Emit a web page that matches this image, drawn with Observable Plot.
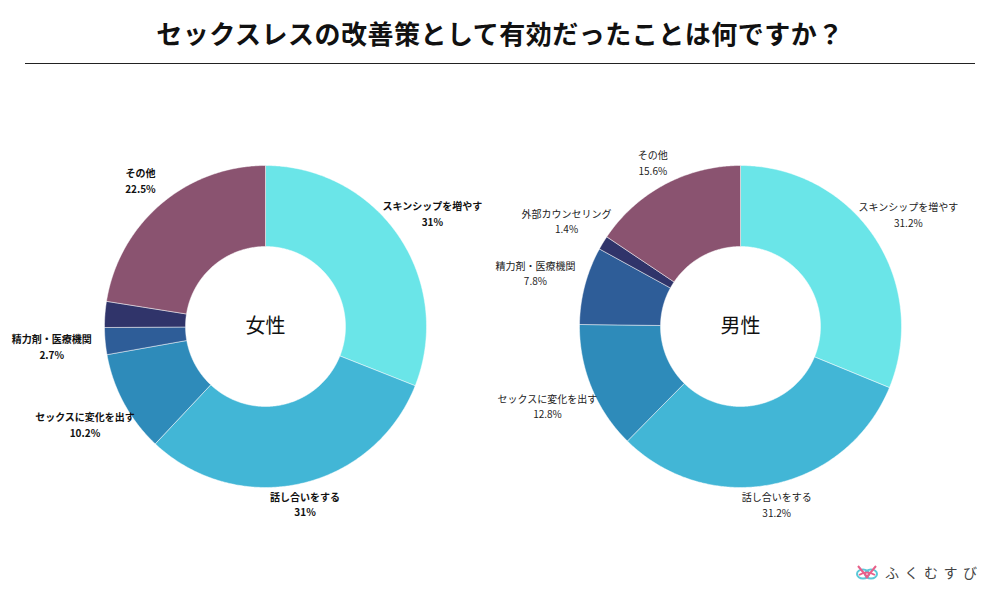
<!DOCTYPE html>
<html>
<head>
<meta charset="utf-8">
<script src="https://cdn.jsdelivr.net/npm/d3@7"></script>
<script src="https://cdn.jsdelivr.net/npm/@observablehq/plot@0.6"></script>
<style>
  html, body { margin: 0; padding: 0; background: #fff; }
  #wrap { position: relative; width: 1000px; height: 600px; overflow: hidden; font-family: "Noto Sans CJK JP", "Noto Sans", sans-serif; }
  #title { position: absolute; left: 0; top: 13px; width: 1000px; margin: 0; text-align: center; font-size: 26px; font-weight: 700; line-height: 40px; color: #111; letter-spacing: 0.5px; }
  #rule { position: absolute; left: 25px; top: 63px; width: 950px; height: 1px; background: #222; }
  #chart { position: absolute; left: 0; top: 70px; }
  #logo { position: absolute; left: 855px; top: 561px; height: 22px; display: flex; align-items: center; }
  #logo span { font-size: 14px; color: #444; letter-spacing: 5.5px; margin-left: 6px; }
</style>
</head>
<body>
<div id="wrap">
  <h1 id="title">セックスレスの改善策として有効だったことは何ですか？</h1>
  <div id="rule"></div>
  <div id="chart"></div>
  <div id="logo">
    <svg width="24" height="20" viewBox="0 0 24 20">
      <ellipse cx="8" cy="12" rx="6" ry="4.5" fill="none" stroke="#5cc8d8" stroke-width="2"/>
      <ellipse cx="16" cy="12" rx="6" ry="4.5" fill="none" stroke="#5cc8d8" stroke-width="2"/>
      <path d="M3 4 L13 16 M21 4 L11 16" stroke="#e8608a" stroke-width="2" fill="none"/>
      <path d="M4 13 Q12 8 20 13" stroke="#e8608a" stroke-width="1.8" fill="none"/>
    </svg>
    <span>ふくむすび</span>
  </div>
</div>
<script>
// ---- data ----
const categories = ["スキンシップを増やす", "話し合いをする", "セックスに変化を出す", "精力剤・医療機関", "外部カウンセリング", "その他"];
const femaleValues = [31, 31, 10.2, 2.7, 2.6, 22.5];
const maleValues = [31.2, 31.2, 12.8, 7.8, 1.4, 15.6];
const femaleLabeled = [true, true, true, true, false, true];
const maleLabeled = [true, true, true, true, true, true];
const groupNames = ["女性", "男性"];
const colors = ["#6ae5e8", "#42b6d6", "#2e8bba", "#2e5d98", "#30346a", "#8a5370"];

// ---- layout ----
const W = 1000, H = 530;
const centersX = [265, 740];
const centerY = 256;
const R = 161, r0 = 80;
const labelA = 215, labelB = 180; // elliptical label ring (horizontal, vertical)

const groups = [
  {name: groupNames[0], values: femaleValues, labeled: femaleLabeled, cx: centersX[0]},
  {name: groupNames[1], values: maleValues, labeled: maleLabeled, cx: centersX[1]}
];

const sliceMarks = [];
const labelData = [[], []];
const centerData = [];

groups.forEach((g, gi) => {
  const total = d3.sum(g.values);
  let acc = 0;
  centerData.push({x: g.cx, y: centerY, text: g.name});
  g.values.forEach((v, i) => {
    const a0 = acc / total * 2 * Math.PI;
    acc += v;
    const a1 = acc / total * 2 * Math.PI;
    const n = Math.max(2, Math.ceil((a1 - a0) / (Math.PI / 360)));
    const pts = [];
    for (let k = 0; k <= n; k++) {
      const t = a0 + (a1 - a0) * k / n;
      pts.push({x: g.cx + R * Math.sin(t), y: centerY - R * Math.cos(t)});
    }
    for (let k = n; k >= 0; k--) {
      const t = a0 + (a1 - a0) * k / n;
      pts.push({x: g.cx + r0 * Math.sin(t), y: centerY - r0 * Math.cos(t)});
    }
    pts.push(pts[0]);
    sliceMarks.push(Plot.line(pts, {x: "x", y: "y", fill: colors[i], stroke: "#ffffff", strokeWidth: 0.6, strokeOpacity: 0.8, curve: "linear"}));
    if (g.labeled[i]) {
      const m = (a0 + a1) / 2;
      const s = Math.sin(m), c = Math.cos(m);
      const lr = 1 / Math.sqrt((s / labelA) ** 2 + (c / labelB) ** 2);
      labelData[gi].push({
        x: g.cx + lr * s,
        y: centerY - lr * c,
        text: `${categories[i]}\n${v}%`
      });
    }
  });
});

const chart = Plot.plot({
  width: W,
  height: H,
  margin: 0,
  x: {domain: [0, W], range: [0, W], axis: null},
  y: {domain: [0, H], range: [0, H], axis: null},
  style: {fontFamily: "'Noto Sans CJK JP', 'Noto Sans', sans-serif", background: "transparent"},
  marks: [
    ...sliceMarks,
    Plot.text(centerData, {x: "x", y: "y", text: "text", fontSize: 20, fill: "#111", fontWeight: "normal"}),
    Plot.text(labelData[0], {x: "x", y: "y", text: "text", fontSize: 10, lineHeight: 1.55, fill: "#111", fontWeight: "bold"}),
    Plot.text(labelData[1], {x: "x", y: "y", text: "text", fontSize: 10, lineHeight: 1.55, fill: "#222", fontWeight: "normal"})
  ]
});
document.getElementById("chart").appendChild(chart);
</script>
</body>
</html>
